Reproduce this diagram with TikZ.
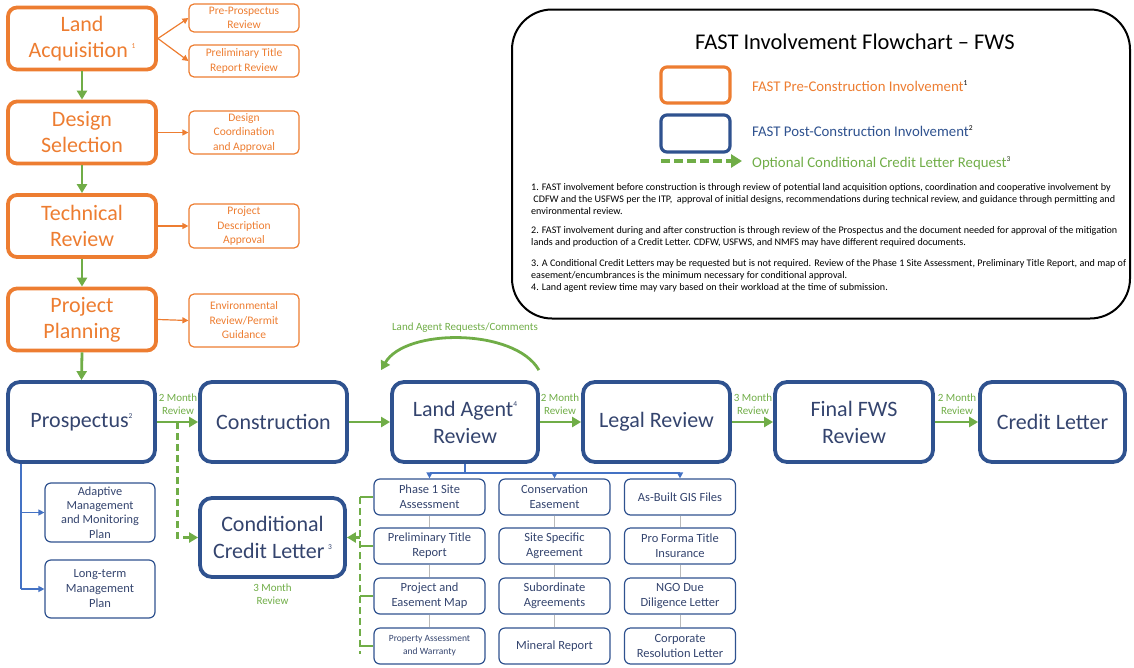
\documentclass[tikz,border=0pt]{standalone}
\usepackage{fontspec}
\setmainfont{Carlito}
\usetikzlibrary{arrows.meta,calc}
\definecolor{forange}{RGB}{237,125,49}
\definecolor{fblue}{RGB}{47,82,143}
\definecolor{fbtext}{RGB}{52,68,110}
\definecolor{fgreen}{RGB}{112,173,71}
\definecolor{fline}{RGB}{68,114,196}
\definecolor{fgray}{RGB}{185,185,185}
\newcommand\sups[1]{\raisebox{0.42em}{\fontsize{7.5}{7.5}\selectfont #1}}
\begin{document}
\begin{tikzpicture}[x=1pt,y=-1pt,
  mainO/.style={draw=forange, line width=3.8pt, rounded corners=9pt, text=forange, font=\fontsize{22}{26}\selectfont, align=center, inner sep=0pt, minimum width=148pt, minimum height=62pt},
  subO/.style={draw=forange, line width=1.2pt, rounded corners=5pt, text=forange, font=\fontsize{11.5}{14.5}\selectfont, align=center, inner sep=0pt, minimum width=110pt},
  mainB/.style={draw=fblue, line width=3.8pt, rounded corners=12pt, text=fbtext, font=\fontsize{22}{27}\selectfont, align=center, inner sep=0pt, minimum width=147pt, minimum height=80pt},
  subB/.style={draw=fblue, line width=1.2pt, rounded corners=6pt, text=fbtext, font=\fontsize{12.5}{15}\selectfont, align=center, inner sep=0pt, minimum width=111pt, minimum height=36pt},
  garrow/.style={draw=fgreen, line width=2.8pt, -{Triangle[length=9pt,width=10pt]}},
  gdash/.style={draw=fgreen, line width=2.8pt, dash pattern=on 7pt off 4pt, -{Triangle[length=9pt,width=10pt]}},
  gdashline/.style={draw=fgreen, line width=2.8pt, dash pattern=on 7pt off 4pt},
  gstub/.style={draw=fgreen, line width=2.8pt},
  oarrow/.style={draw=forange, line width=1.2pt, -{Triangle[length=6pt,width=6pt]}},
  bline/.style={draw=fline, line width=1.3pt},
  barrow/.style={draw=fline, line width=1.3pt, -{Triangle[length=6pt,width=6pt]}},
  glink/.style={draw=fgray, line width=0.8pt},
  lab/.style={text=fgreen, font=\fontsize{11}{13}\selectfont, align=center, inner sep=0pt}
]
\useasboundingbox (0,0) rectangle (1134,667);

% ---------- pre-construction column ----------
\node[mainO] (LA) at (82,38.5) {Land\\Acquisition\,\sups{1}};
\node[mainO] (DS) at (82,132.5) {Design\\Selection};
\node[mainO] (TR) at (82,226) {Technical\\Review};
\node[mainO] (PP) at (82,319.5) {Project\\Planning};

\node[subO, minimum height=28pt] (PPR) at (244,18) {Pre-Prospectus\\Review};
\node[subO, minimum height=32pt] (PTR) at (244,61) {Preliminary Title\\Report Review};
\node[subO, minimum height=43pt] (DCA) at (244,132.5) {Design\\Coordination\\and Approval};
\node[subO, minimum height=44pt] (PDA) at (244,226) {Project\\Description\\Approval};
\node[subO, minimum height=53pt] (ERP) at (244,320.5) {Environmental\\Review/Permit\\Guidance};

\draw[oarrow] (LA.east) -- (PPR.west);
\draw[oarrow] (LA.east) -- (PTR.west);
\draw[oarrow] (DS.east) -- (DCA.west);
\draw[oarrow] (TR.east) -- (PDA.west);
\draw[oarrow] (PP.east) -- (ERP.west);

% ---------- main row ----------
\node[mainB] (PRO) at (81.5,422) {Prospectus\sups{2}};
\node[mainB] (CON) at (273.5,422) {Construction};
\node[mainB, minimum width=146pt] (LAR) at (465,422) {Land Agent\sups{4}\\Review};
\node[mainB] (LEG) at (656.5,422) {Legal Review};
\node[mainB, minimum width=158pt] (FIN) at (854,422) {Final FWS\\Review};
\node[mainB, minimum width=145pt] (CRE) at (1052.5,422) {Credit Letter};
\node[mainB, minimum width=145pt, minimum height=79pt] (CCL) at (272.5,537.5) {Conditional\\Credit Letter\,\sups{3}};

\draw[garrow] (LA.south) -- (DS.north);
\draw[garrow] (DS.south) -- (TR.north);
\draw[garrow] (TR.south) -- (PP.north);
\draw[garrow] (PP.south) -- (PRO.north);

\draw[garrow] (PRO.east) -- (CON.west);
\draw[garrow] (CON.east) -- (LAR.west);
\draw[garrow] (LAR.east) -- (LEG.west);
\draw[garrow] (LEG.east) -- (FIN.west);
\draw[garrow] (FIN.east) -- (CRE.west);

\node[lab] (L1) at (178,404) {2 Month\\Review};
\node[lab] (L2) at (560,404) {2 Month\\Review};
\node[lab] (L3) at (753,404) {3 Month\\Review};
\node[lab] (L4) at (957,404) {2 Month\\Review};
\node[lab] (L5) at (272.5,594) {3 Month\\Review};

\coordinate (pc) at ($(PRO.east)!0.5!(CON.west)$);
\draw[gdash] (pc) |- (CCL.west);

% arc
\coordinate (as) at ($(LAR.north east)+(-1,-10)$);
\coordinate (ae) at ($(LAR.north west)+(-9,-10)$);
\draw[garrow] (as) .. controls (515,328) and (405,328) .. (ae);
\node[lab] (LARC) at (465,328) {Land Agent Requests/Comments};

% ---------- prospectus subitems ----------
\node[subB, minimum width=110pt, minimum height=59pt, font=\fontsize{12.3}{14.3}\selectfont] (AMM) at (100,512.5) {Adaptive\\Management\\and Monitoring\\Plan};
\node[subB, minimum width=110pt, minimum height=58pt] (LTM) at (100,589) {Long-term\\Management\\Plan};
\coordinate (bl) at (21,0);
\draw[bline] (PRO.south -| bl) -- (bl |- LTM.west);
\draw[barrow] (bl |- AMM.west) -- (AMM.west);
\draw[barrow] (bl |- LTM.west) -- (LTM.west);

% ---------- document grid ----------
\node[subB] (g11) at (429.5,497) {Phase 1 Site\\Assessment};
\node[subB] (g21) at (429.5,546) {Preliminary Title\\Report};
\node[subB] (g31) at (429.5,596) {Project and\\Easement Map};
\node[subB, font=\fontsize{9.5}{13}\selectfont] (g41) at (429.5,646) {Property Assessment\\and Warranty};
\node[subB] (g12) at (554.5,497) {Conservation\\Easement};
\node[subB] (g22) at (554.5,546) {Site Specific\\Agreement};
\node[subB] (g32) at (554.5,596) {Subordinate\\Agreements};
\node[subB] (g42) at (554.5,646) {Mineral Report};
\node[subB] (g13) at (680,497) {As-Built GIS Files};
\node[subB] (g23) at (680,546) {Pro Forma Title\\Insurance};
\node[subB] (g33) at (680,596) {NGO Due\\Diligence Letter};
\node[subB] (g43) at (680,646) {Corporate\\Resolution Letter};

\draw[bline] (LAR.south) -- ++(0,9) coordinate (lj);
\draw[bline] (lj -| g11.north) -- (lj -| g13.north);
\draw[barrow] (lj -| g11.north) -- (g11.north);
\draw[barrow] (lj -| g12.north) -- (g12.north);
\draw[barrow] (lj -| g13.north) -- (g13.north);

\foreach \c in {1,2,3}{
  \draw[glink] (g1\c.south) -- (g2\c.north);
  \draw[glink] (g2\c.south) -- (g3\c.north);
  \draw[glink] (g3\c.south) -- (g4\c.north);
}

\coordinate (dl) at (360,0);
\draw[gdashline] (dl |- g11.west) -- ($(dl |- g41.west)+(0,8)$);
\foreach \r in {1,2,3,4}{
  \draw[gstub] (dl |- g\r1.west) -- (g\r1.west);
}
\draw[gdash] (dl |- CCL.east) -- (CCL.east);

% ---------- legend ----------
\node[draw=black, line width=2pt, rounded corners=40pt, minimum width=618pt, minimum height=309pt, inner sep=0pt] (LEGBOX) at (821,164) {};
\node[font=\fontsize{22.5}{26}\selectfont, inner sep=0pt] (TITLE) at (855,42) {FAST Involvement Flowchart – FWS};
\node[draw=forange, line width=3.2pt, rounded corners=6pt, minimum width=69pt, minimum height=36pt, inner sep=0pt] (LO) at (695.5,85) {};
\node[draw=fblue, line width=3.2pt, rounded corners=6pt, minimum width=69pt, minimum height=37pt, inner sep=0pt] (LB) at (695.5,133.5) {};
\node[anchor=west, inner sep=0pt, text=forange, font=\fontsize{14.8}{17}\selectfont] (LOT) at (752,86) {FAST Pre-Construction Involvement\textcolor{black}{\sups{1}}};
\node[anchor=west, inner sep=0pt, text=fblue, font=\fontsize{14.8}{17}\selectfont] (LBT) at (752,131) {FAST Post-Construction Involvement\textcolor{black}{\sups{2}}};
\node[anchor=west, inner sep=0pt, text=fgreen, font=\fontsize{14.8}{17}\selectfont] (LGT) at (752,163) {Optional Conditional Credit Letter Request\textcolor{black!70!fgreen}{\sups{3}}};
\coordinate (ds) at (661,161);
\draw[draw=fgreen, line width=4pt, dash pattern=on 9pt off 4pt, -{Triangle[length=11pt,width=13pt]}] (ds) -- ($(LGT.west)+(-10,-2)$);

\node[anchor=north west, inner sep=0pt, align=left, font=\fontsize{10.1}{12}\selectfont] (NOTES) at (531,183) {%
1. FAST involvement before construction is through review of potential land acquisition options, coordination and cooperative involvement by\\
\ CDFW and the USFWS per the ITP,\ \ approval of initial designs, recommendations during technical review, and guidance through permitting and\\
environmental review.\\[7pt]
2. FAST involvement during and after construction is through review of the Prospectus and the document needed for approval of the mitigation\\
lands and production of a Credit Letter. CDFW, USFWS, and NMFS may have different required documents.\\[9pt]
3. A Conditional Credit Letters may be requested but is not required. Review of the Phase 1 Site Assessment, Preliminary Title Report, and map of\\
easement/encumbrances is the minimum necessary for conditional approval.\\
4. Land agent review time may vary based on their workload at the time of submission.};
\end{tikzpicture}
\end{document}
